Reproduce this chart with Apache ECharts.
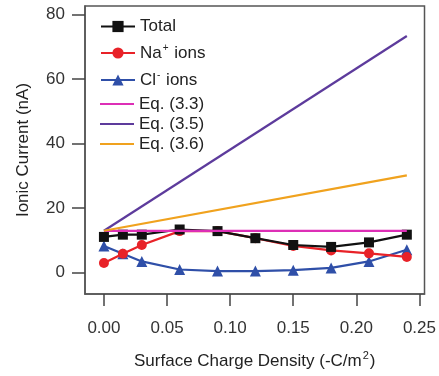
<!DOCTYPE html>
<html>
<head>
<meta charset="utf-8">
<script src="https://cdn.jsdelivr.net/npm/echarts@6/dist/echarts.min.js"></script>
<style>
html,body{margin:0;padding:0;background:#fff;}
#chart{width:439px;height:376px;}
</style>
</head>
<body>
<div id="chart"></div>
<script>
var xValues = [0.00, 0.015, 0.03, 0.06, 0.09, 0.12, 0.15, 0.18, 0.21, 0.24];
var totalValues = [11.1, 11.8, 11.8, 13.4, 12.9, 10.7, 8.6, 8.0, 9.4, 11.8];
var naValues = [3.0, 5.9, 8.6, 12.9, 12.9, 10.7, 8.3, 6.9, 6.0, 4.9];
var clValues = [8.3, 5.9, 3.5, 1.0, 0.5, 0.5, 0.8, 1.5, 3.5, 7.1];
var eqX = [0.00, 0.24];
var eq33 = [13.0, 13.0];
var eq35 = [13.0, 73.4];
var eq36 = [13.0, 30.2];
var xTicks = [0, 0.05, 0.10, 0.15, 0.20, 0.25];
var yTicks = [0, 20, 40, 60, 80];

function pairs(xs, ys) { return xs.map(function (x, i) { return [x, ys[i]]; }); }

var font = 'Liberation Sans, Arial, sans-serif';
var chart = echarts.init(document.getElementById('chart'));

function dataSeries(name, vals, color, symbol, size, z) {
  return {
    name: name, type: 'line', data: pairs(xValues, vals), z: z,
    symbol: symbol, symbolSize: size, showSymbol: true,
    lineStyle: { color: color, width: 2.2 },
    itemStyle: { color: color, borderWidth: 0 },
    emphasis: { disabled: true }, animation: false
  };
}
function eqSeries(name, vals, color) {
  return {
    name: name, type: 'line', data: pairs(eqX, vals), z: 6,
    symbol: 'none', showSymbol: false,
    lineStyle: { color: color, width: 2.2 },
    itemStyle: { color: color },
    emphasis: { disabled: true }, animation: false
  };
}

var legendRich = {
  n: { fontSize: 17, fontFamily: font, color: '#222', lineHeight: 20 },
  s: { fontSize: 10, fontFamily: font, color: '#222', lineHeight: 20, verticalAlign: 'top', padding: [0, 1, 9, 1] }
};
var lineIcon = 'path://M0,0L34,0L34,2.2L0,2.2Z';

var option = {
  backgroundColor: '#fff',
  animation: false,
  grid: { left: 85, right: 10, top: 6, bottom: 78, show: true, borderColor: '#555', borderWidth: 1.5, backgroundColor: 'transparent' },
  legend: [
    {
      data: ['Total', 'Na+ ions', 'Cl- ions'],
      orient: 'vertical', left: 95, top: 13,
      itemWidth: 34, itemHeight: 14, itemGap: 8,
      textStyle: { fontSize: 17, fontFamily: font, color: '#222', rich: legendRich },
      formatter: function (name) {
        if (name === 'Na+ ions') return '{n|Na}{s|+}{n|\u00a0ions}';
        if (name === 'Cl- ions') return '{n|Cl}{s|-}{n|\u00a0ions}';
        return '{n|' + name + '}';
      },
      selectedMode: false
    },
    {
      data: [
        { name: 'Eq. (3.3)', icon: lineIcon },
        { name: 'Eq. (3.5)', icon: lineIcon },
        { name: 'Eq. (3.6)', icon: lineIcon }
      ],
      orient: 'vertical', left: 95, top: 89,
      itemWidth: 34, itemHeight: 14, itemGap: 0, symbolKeepAspect: true,
      textStyle: { fontSize: 17, fontFamily: font, color: '#222', lineHeight: 20 },
      selectedMode: false
    }
  ],
  xAxis: {
    type: 'value', min: -0.015, max: 0.254,
    name: '{a|Surface Charge Density (-C/m}{s|2}{a|)}',
    nameLocation: 'middle', nameGap: 56,
    nameTextStyle: {
      rich: {
        a: { fontSize: 17, fontFamily: font, color: '#222', lineHeight: 22 },
        s: { fontSize: 11, fontFamily: font, color: '#222', lineHeight: 22, verticalAlign: 'top', padding: [0, 1, 10, 1] }
      }
    },
    axisLine: { show: true, onZero: false, lineStyle: { color: '#555', width: 1.5 } },
    axisTick: { show: true, inside: false, length: 12, customValues: xTicks, lineStyle: { color: '#444', width: 1.5 } },
    axisLabel: { customValues: xTicks, margin: 26, fontSize: 17, fontFamily: font, color: '#333',
      formatter: function (v) { return v.toFixed(2); } },
    splitLine: { show: false }
  },
  yAxis: {
    type: 'value', min: -6.6, max: 82.7,
    name: 'Ionic Current (nA)', nameLocation: 'middle', nameGap: 53,
    nameTextStyle: { fontSize: 17, fontFamily: font, color: '#222' },
    axisLine: { show: true, onZero: false, lineStyle: { color: '#555', width: 1.5 } },
    axisTick: { show: true, inside: false, length: 13, customValues: yTicks, lineStyle: { color: '#444', width: 1.5 } },
    axisLabel: { customValues: yTicks, margin: 20, fontSize: 17, fontFamily: font, color: '#333' },
    splitLine: { show: false }
  },
  series: [
    dataSeries('Total', totalValues, '#111111', 'rect', 10, 4),
    dataSeries('Na+ ions', naValues, '#e82228', 'circle', 10, 3),
    dataSeries('Cl- ions', clValues, '#2f4fa8', 'triangle', 11, 2),
    eqSeries('Eq. (3.3)', eq33, '#dd2fb6'),
    eqSeries('Eq. (3.5)', eq35, '#5d3b9c'),
    eqSeries('Eq. (3.6)', eq36, '#f0a21e')
  ]
};
chart.setOption(option);
</script>
</body>
</html>
